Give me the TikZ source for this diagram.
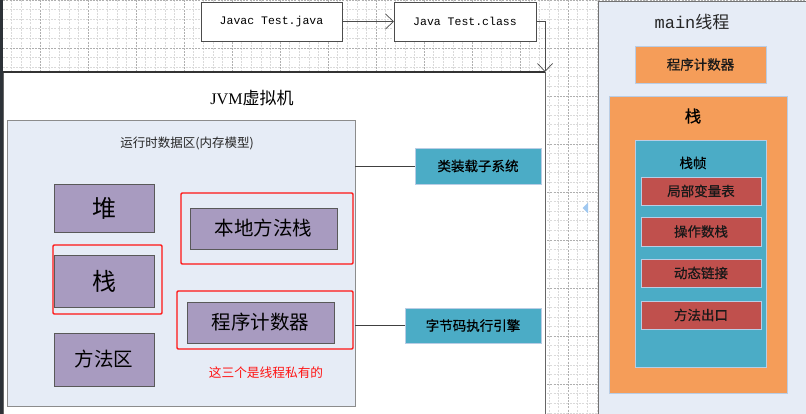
\documentclass[tikz,border=0pt]{standalone}
\usepackage{fontspec}
\setmainfont{Liberation Serif}
\newfontfamily\cjk{Noto Sans CJK SC}
\newfontfamily\cjkheavy{Noto Sans CJK SC}[FakeBold=0.6]
\newfontfamily\monofam{Liberation Mono}
\usetikzlibrary{arrows.meta}

\definecolor{canvasbg}{RGB}{255,255,255}
\definecolor{gridfine}{RGB}{218,218,218}
\definecolor{gridmajor}{RGB}{175,175,175}
\definecolor{sidebar}{RGB}{45,50,56}
\definecolor{paleblue}{RGB}{230,236,246}
\definecolor{panelline}{RGB}{140,140,140}
\definecolor{lilac}{RGB}{168,155,192}
\definecolor{teal}{RGB}{75,172,198}
\definecolor{orangefill}{RGB}{245,157,89}
\definecolor{brick}{RGB}{192,80,77}
\definecolor{softedge}{RGB}{185,205,229}
\definecolor{handleblue}{RGB}{160,200,240}
\definecolor{hired}{RGB}{255,20,20}

\tikzset{
  sizedbox/.style 2 args={anchor=north west, inner sep=0pt, outer sep=0pt,
    minimum width=#1, minimum height=#2},
  codebox/.style={draw=black!70, line width=0.8pt, fill=white,
    font=\monofam\fontsize{11.5}{13}\selectfont},
  panel/.style={draw=panelline, line width=0.8pt, fill=paleblue},
  memblock/.style={draw=black!65, line width=0.7pt, fill=lilac, text=black},
  bigzh/.style={font=\cjk\fontsize{24}{28}\selectfont},
  midzh/.style={font=\cjk\fontsize{19.5}{23}\selectfont},
  smallzh/.style={font=\cjkheavy\fontsize{13.5}{16}\selectfont},
  subsys/.style={draw=softedge, line width=0.6pt, fill=teal, text=black, smallzh},
  threadbox/.style={draw=softedge, line width=0.6pt, text=black!90, smallzh},
  privmark/.style={draw=hired, line width=1.4pt, rounded corners=1.2pt},
  link/.style={draw=black!75, line width=0.8pt},
  flow/.style={draw=black!70, line width=0.8pt,
    -{Straight Barb[length=8pt,width=15pt,line width=0.7pt]}},
}

\begin{document}
\begin{tikzpicture}[x=1pt,y=-1pt]
\useasboundingbox (0,0) rectangle (806,414);
\clip (0,0) rectangle (806,414);

% canvas with its dashed drawing grid
\fill[canvasbg] (0,0) rectangle (806,414);
\foreach \i in {0,...,85} {
  \pgfmathsetmacro\gx{1.6+9.6*\i}
  \draw[gridfine, line width=0.6pt, dash pattern=on 2pt off 1.2pt] (\gx,0) -- (\gx,414);
}
\foreach \i in {0,...,44} {
  \pgfmathsetmacro\gy{9.6*\i}
  \draw[gridfine, line width=0.6pt, dash pattern=on 2pt off 1.2pt] (0,\gy) -- (806,\gy);
}
\foreach \i in {0,...,17} {
  \pgfmathsetmacro\gx{-8+48*\i}
  \draw[gridmajor, line width=0.6pt, dash pattern=on 2pt off 1.2pt] (\gx,0) -- (\gx,414);
}
\foreach \i in {0,...,9} {
  \pgfmathsetmacro\gy{48*\i}
  \draw[gridmajor, line width=0.6pt, dash pattern=on 2pt off 1.2pt] (0,\gy) -- (806,\gy);
}
\fill[sidebar] (0,0) rectangle (3.2,414);

% compile and load steps
\node[codebox, sizedbox={141pt}{39pt}] (javac) at (201,2) {Javac Test.java};
\node[codebox, sizedbox={142pt}{39pt}] (cls) at (394,2) {Java Test.class};

% the virtual machine
\node[sizedbox={542pt}{360pt}, fill=white, draw=black!60, line width=0.8pt] (jvm) at (3,72) {};
\draw[black!80, line width=1.2pt] (jvm.north west) -- (jvm.north east);
\node[font=\fontsize{17}{20}\selectfont] (jvmtitle) at (252,98)
  {\fontspec{Liberation Serif}[Scale=0.95]JVM\cjk 虚拟机};

\draw[flow] (javac.east) -- (cls.west);
\draw[flow] (cls.east) -| (jvm.north east);

% runtime data areas
\node[panel, sizedbox={348pt}{286pt}] (rda) at (7,120) {};
\node[font=\cjk\fontsize{12.5}{15}\selectfont, text=black!85] (rdatitle) at (187,143)
  {运行时数据区(内存模型)};

\node[memblock, bigzh, sizedbox={100pt}{48pt}] (heap) at (54,184) {堆};
\node[memblock, bigzh, sizedbox={100pt}{52pt}] (stackarea) at (54,255) {栈};
\node[memblock, midzh, sizedbox={100pt}{53pt}] (methodarea) at (54,333) {方法区};
\node[memblock, midzh, sizedbox={147pt}{41pt}] (nativestack) at (190,208) {本地方法栈};
\node[memblock, midzh, sizedbox={147pt}{41pt}] (pcreg) at (187,302) {程序计数器};

% thread-private areas
\node[privmark, sizedbox={109pt}{69pt}] (markstack) at (53,245) {};
\node[privmark, sizedbox={172pt}{71pt}] (marknative) at (181,193) {};
\node[privmark, sizedbox={176pt}{58pt}] (markpc) at (177,291) {};
\node[font=\cjk\fontsize{12.7}{15}\selectfont, text=hired] (privnote) at (266,373)
  {这三个是线程私有的};

% subsystems beside the data areas
\node[subsys, sizedbox={126pt}{36pt}] (loader) at (415,148) {类装载子系统};
\node[subsys, sizedbox={136pt}{35pt}] (engine) at (405,308) {字节码执行引擎};
\draw[link] (loader.west) -- (loader.west -| rda.east);
\draw[link] (engine.west) -- (engine.west -| rda.east);

% small handle on the canvas
\fill[handleblue] (582.5,208) -- (588,202.5) -- (588,213.5) -- cycle;

% the main thread
\node[panel, sizedbox={230pt}{430pt}, draw=black!55] (mainthread) at (598,1) {};
\node[font=\cjk\fontsize{17}{20}\selectfont, text=black!85] (maintitle) at (692,22)
  {{\monofam main}线程};
\node[threadbox, fill=orangefill, sizedbox={131pt}{37pt}] (mainpc) at (635,46) {程序计数器};
\node[threadbox, fill=orangefill, sizedbox={178pt}{297pt}] (mainstack) at (609,96) {};
\node[font=\cjkheavy\fontsize{16.5}{19}\selectfont] (mainstacklbl) at (693,116) {栈};
\node[threadbox, fill=teal, sizedbox={131pt}{227pt}] (frame) at (635,140) {};
\node[smallzh] (framelbl) at (693,163) {栈帧};
\node[threadbox, fill=brick, sizedbox={120pt}{28pt}] (locals) at (641,177) {局部变量表};
\node[threadbox, fill=brick, sizedbox={120pt}{29pt}] (operands) at (641,217) {操作数栈};
\node[threadbox, fill=brick, sizedbox={120pt}{28pt}] (dynlink) at (641,259) {动态链接};
\node[threadbox, fill=brick, sizedbox={120pt}{28pt}] (retaddr) at (641,301) {方法出口};
\end{tikzpicture}
\end{document}
